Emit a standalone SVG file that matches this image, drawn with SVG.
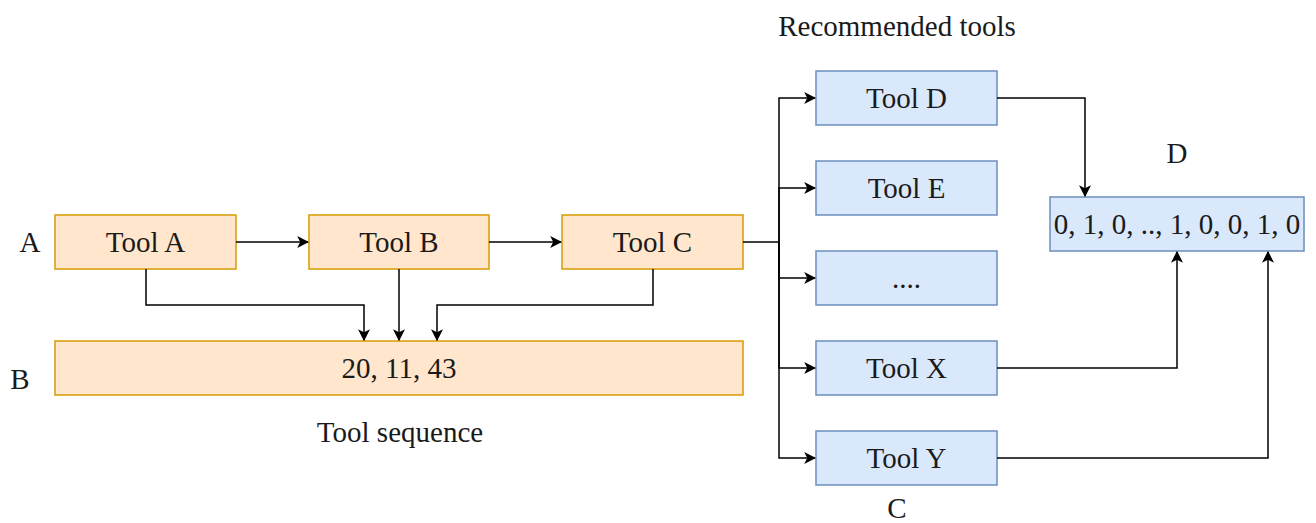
<svg xmlns="http://www.w3.org/2000/svg" width="1316" height="523" viewBox="0 0 1316 523">
  <style>
    text { font-family: "Liberation Serif", "DejaVu Serif", serif; font-size: 29px; fill: #1a1a1a; text-anchor: middle; dominant-baseline: central; }
    .orange { fill: #ffe6cc; stroke: #d79b00; stroke-width: 1.5; }
    .blue { fill: #dae8fc; stroke: #6c8ebf; stroke-width: 1.5; }
    .edge { fill: none; stroke: #000; stroke-width: 1.5; marker-end: url(#arrow); }
  </style>
  <defs>
    <marker id="arrow" viewBox="0 0 10 10" refX="9" refY="5" markerWidth="12" markerHeight="12" markerUnits="userSpaceOnUse" orient="auto">
      <path d="M0,0 L10,5 L0,10 L2.5,5 Z" fill="#000"/>
    </marker>
  </defs>

  <!-- free labels -->
  <g id="labels">
    <text x="30" y="242">A</text>
    <text x="20" y="379">B</text>
    <text x="400" y="432">Tool sequence</text>
    <text x="897" y="26">Recommended tools</text>
    <text x="897" y="508">C</text>
    <text x="1177" y="153">D</text>
  </g>

  <!-- sequence nodes -->
  <g id="tool-a"><rect class="orange" x="55" y="215" width="181" height="54"/><text x="145.5" y="242">Tool A</text></g>
  <g id="tool-b"><rect class="orange" x="309" y="215" width="180" height="54"/><text x="399" y="242">Tool B</text></g>
  <g id="tool-c"><rect class="orange" x="562" y="215" width="181" height="54"/><text x="652.5" y="242">Tool C</text></g>
  <g id="sequence"><rect class="orange" x="55" y="341" width="688" height="54"/><text x="399" y="368">20, 11, 43</text></g>

  <!-- recommended nodes -->
  <g id="tool-d"><rect class="blue" x="816" y="71" width="181" height="54"/><text x="906.5" y="98">Tool D</text></g>
  <g id="tool-e"><rect class="blue" x="816" y="161" width="181" height="54"/><text x="906.5" y="188">Tool E</text></g>
  <g id="tool-more"><rect class="blue" x="816" y="251" width="181" height="54"/><text x="906.5" y="278">....</text></g>
  <g id="tool-x"><rect class="blue" x="816" y="341" width="181" height="54"/><text x="906.5" y="368">Tool X</text></g>
  <g id="tool-y"><rect class="blue" x="816" y="431" width="181" height="54"/><text x="906.5" y="458">Tool Y</text></g>

  <!-- multi-hot vector -->
  <g id="vector"><rect class="blue" x="1050" y="197" width="254" height="54"/><text x="1177" y="224">0, 1, 0, .., 1, 0, 0, 1, 0</text></g>

  <!-- connectors -->
  <g id="connectors">
    <path class="edge" d="M236,242 H308"/>
    <path class="edge" d="M489,242 H561"/>
    <path class="edge" d="M146,269 V305 H364 V340"/>
    <path class="edge" d="M399,269 V340"/>
    <path class="edge" d="M653,269 V305 H437 V340"/>
    <path class="edge" d="M743,242 H779 V98 H815"/>
    <path class="edge" d="M779,242 V188 H815"/>
    <path class="edge" d="M779,242 V278 H815"/>
    <path class="edge" d="M779,242 V368 H815"/>
    <path class="edge" d="M779,242 V458 H815"/>
    <path class="edge" d="M997,98 H1085 V196"/>
    <path class="edge" d="M997,368 H1177 V252"/>
    <path class="edge" d="M997,458 H1268 V252"/>
  </g>
</svg>
